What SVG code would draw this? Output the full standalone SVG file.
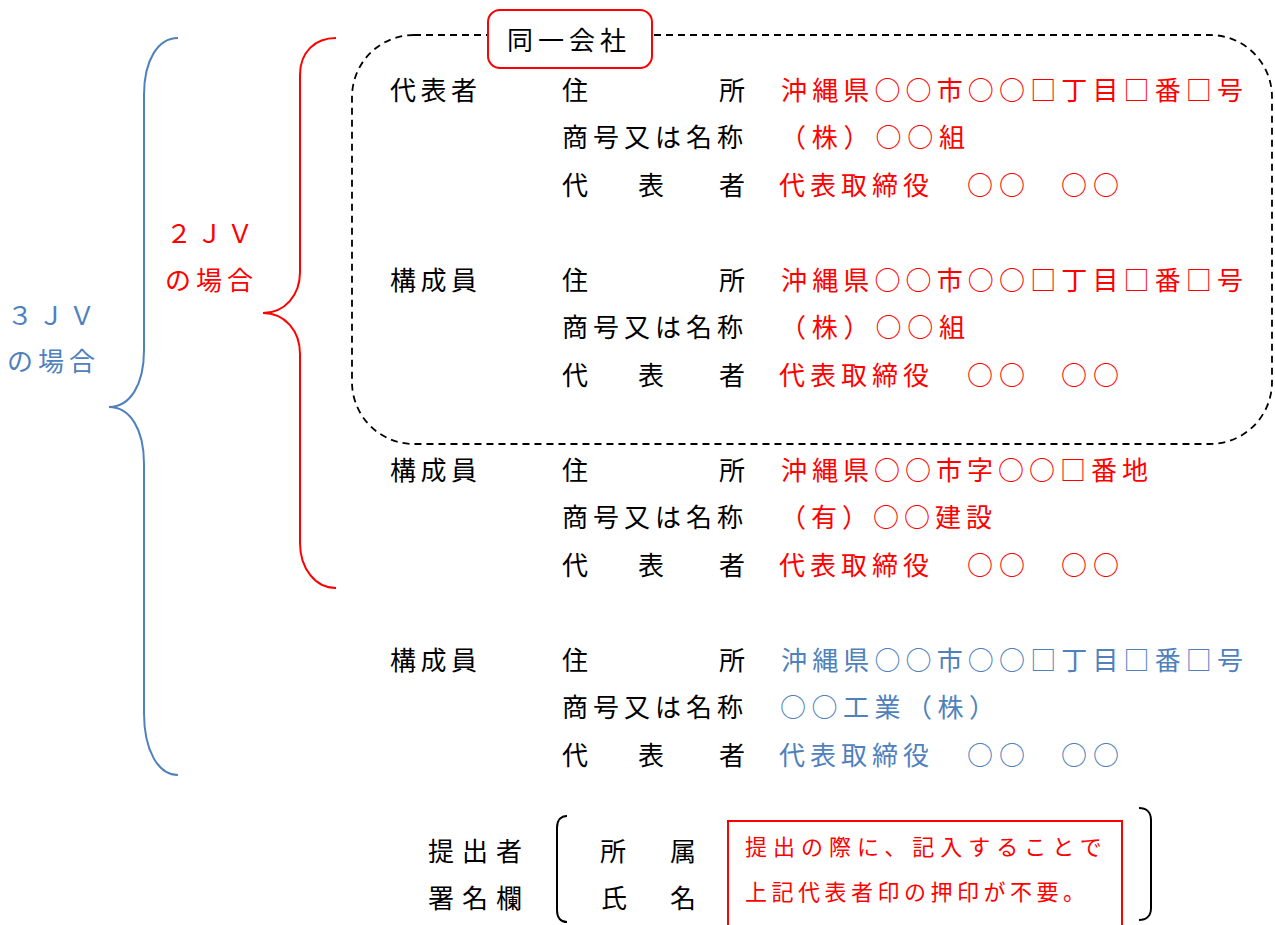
<svg xmlns="http://www.w3.org/2000/svg" width="1275" height="925" viewBox="0 0 1275 925">
<style>
text{font-family:"Noto Sans CJK JP","Noto Sans",sans-serif;font-size:26px;dominant-baseline:central}
.k{fill:#000}
.r{fill:#ff0000}
.b{fill:#4f81bd}
.s{font-size:22px}
.br{fill:none;stroke-width:2}
</style>
<rect width="1275" height="925" fill="#fff"/>

<g id="connectors">
  <path class="br" stroke="#4f81bd" d="M178 38 C158 38 144 60 144 95 L144 350 C144 385 130 407 109 407 C130 407 144 429 144 464 L144 713 C144 750 158 775 178 775"/>
  <path class="br" stroke="#ff0000" d="M336 38 C315 38 300 52 300 75 L300 272 C300 295 285 313 263 313 C285 313 300 331 300 354 L300 543 C300 568 315 588 336 588"/>
  <path class="br" stroke="#000" d="M567 816 C561 816 557 820 557 828 L557 910 C557 918 561 922 567 922"/>
  <path class="br" stroke="#000" d="M1139 808 C1146 808 1151 812 1151 820 L1151 908 C1151 916 1146 920 1139 920"/>
</g>

<g id="label-3jv">
  <text class="b" x="7" y="313" letter-spacing="5">３ＪＶ</text>
  <text class="b" x="7" y="359" letter-spacing="5">の場合</text>
</g>
<g id="label-2jv">
  <text class="r" x="166" y="231" letter-spacing="4.5">２ＪＶ</text>
  <text class="r" x="165" y="278" letter-spacing="5">の場合</text>
</g>

<g id="same-company">
  <rect x="352" y="35" width="920" height="409" rx="62" fill="none" stroke="#000" stroke-width="1.8" stroke-dasharray="7 5"/>
  <rect x="488" y="10" width="164" height="58" rx="12" fill="#fff" stroke="#ff0000" stroke-width="2"/>
  <text class="k" x="507" y="38" letter-spacing="5">同一会社</text>
</g>

<g id="representative">
  <text class="k" x="390" y="88" letter-spacing="4.5">代表者</text>
  <text class="k" x="562" y="88">住</text><text class="k" x="719" y="88">所</text>
  <text class="k" x="562" y="135.5" letter-spacing="5">商号又は名称</text>
  <text class="k" x="562" y="183">代</text><text class="k" x="638" y="183">表</text><text class="k" x="719" y="183">者</text>
  <text class="r" x="781" y="88" textLength="462" lengthAdjust="spacing">沖縄県○○市○○□丁目□番□号</text>
  <text class="r" x="780" y="135.5" letter-spacing="5.8">（株）○○組</text>
  <text class="r" x="779" y="183" letter-spacing="5">代表取締役</text>
  <text class="r" x="967" y="183" letter-spacing="6">○○</text>
  <text class="r" x="1061" y="183" letter-spacing="6">○○</text>
</g>

<g id="member-1">
  <text class="k" x="390" y="278" letter-spacing="4.5">構成員</text>
  <text class="k" x="562" y="278">住</text><text class="k" x="719" y="278">所</text>
  <text class="k" x="562" y="325.5" letter-spacing="5">商号又は名称</text>
  <text class="k" x="562" y="373">代</text><text class="k" x="638" y="373">表</text><text class="k" x="719" y="373">者</text>
  <text class="r" x="781" y="278" textLength="462" lengthAdjust="spacing">沖縄県○○市○○□丁目□番□号</text>
  <text class="r" x="780" y="325.5" letter-spacing="5.8">（株）○○組</text>
  <text class="r" x="779" y="373" letter-spacing="5">代表取締役</text>
  <text class="r" x="967" y="373" letter-spacing="6">○○</text>
  <text class="r" x="1061" y="373" letter-spacing="6">○○</text>
</g>

<g id="member-2">
  <text class="k" x="390" y="468" letter-spacing="4.5">構成員</text>
  <text class="k" x="562" y="468">住</text><text class="k" x="719" y="468">所</text>
  <text class="k" x="562" y="515.5" letter-spacing="5">商号又は名称</text>
  <text class="k" x="562" y="563">代</text><text class="k" x="638" y="563">表</text><text class="k" x="719" y="563">者</text>
  <text class="r" x="781" y="468" textLength="367" lengthAdjust="spacing">沖縄県○○市字○○□番地</text>
  <text class="r" x="780" y="515.5" letter-spacing="5">（有）○○建設</text>
  <text class="r" x="779" y="563" letter-spacing="5">代表取締役</text>
  <text class="r" x="967" y="563" letter-spacing="6">○○</text>
  <text class="r" x="1061" y="563" letter-spacing="6">○○</text>
</g>

<g id="member-3">
  <text class="k" x="390" y="658" letter-spacing="4.5">構成員</text>
  <text class="k" x="562" y="658">住</text><text class="k" x="719" y="658">所</text>
  <text class="k" x="562" y="705.5" letter-spacing="5">商号又は名称</text>
  <text class="k" x="562" y="753">代</text><text class="k" x="638" y="753">表</text><text class="k" x="719" y="753">者</text>
  <text class="b" x="781" y="658" textLength="462" lengthAdjust="spacing">沖縄県○○市○○□丁目□番□号</text>
  <text class="b" x="780" y="705.5" letter-spacing="5.5">○○工業（株）</text>
  <text class="b" x="779" y="753" letter-spacing="5">代表取締役</text>
  <text class="b" x="967" y="753" letter-spacing="6">○○</text>
  <text class="b" x="1061" y="753" letter-spacing="6">○○</text>
</g>

<g id="signature">
  <text class="k" x="428" y="849" letter-spacing="8">提出者</text>
  <text class="k" x="428" y="896" letter-spacing="8">署名欄</text>
  <text class="k" x="600" y="849">所</text><text class="k" x="670" y="849">属</text>
  <text class="k" x="601" y="896">氏</text><text class="k" x="670" y="896">名</text>
</g>

<g id="note">
  <rect x="728" y="821" width="394" height="130" fill="none" stroke="#ff0000" stroke-width="2"/>
  <text class="r s" x="745" y="845" letter-spacing="6">提出の際に、記入することで</text>
  <text class="r s" x="745" y="890" letter-spacing="4.5">上記代表者印の押印が不要。</text>
</g>
</svg>
